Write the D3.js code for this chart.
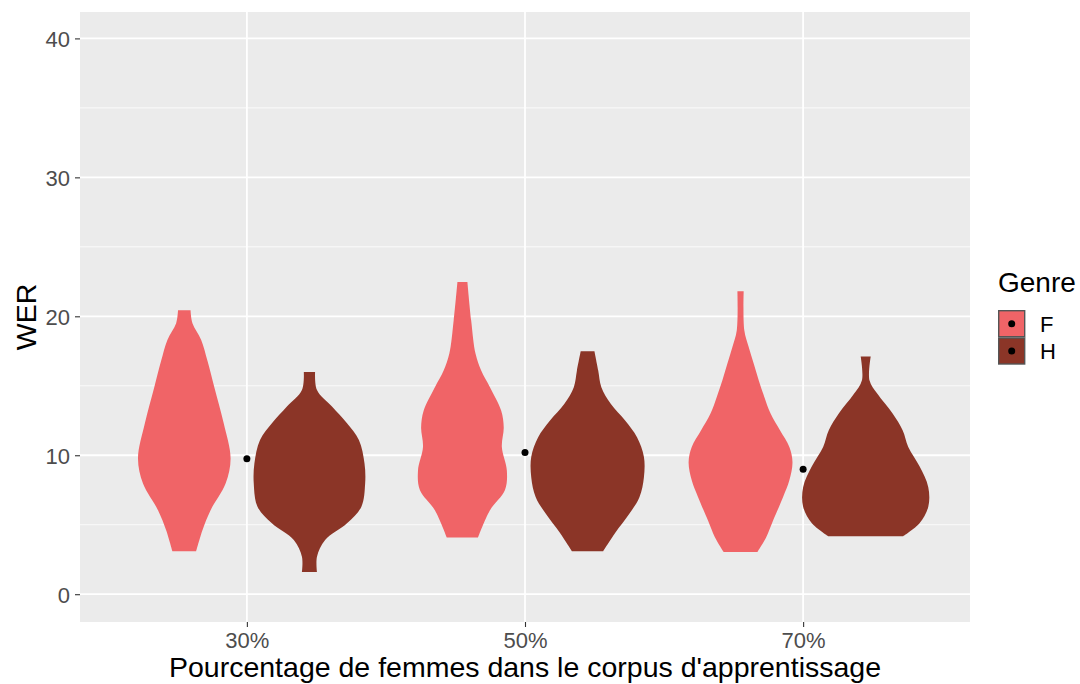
<!DOCTYPE html>
<html lang="fr">

<head>
    <meta charset="UTF-8">
    <script src="https://d3js.org/d3.v7.min.js" charset="utf-8"></script>
    <title>WER par genre</title>
    <style>
        body { margin: 0; background: #fff; }
        text { font-family: "Liberation Sans", Arial, sans-serif; }
    </style>
</head>

<body>
    <div id="chart"></div>

    <script>
        // pourcentages de femmes dans le corpus
        const categories = ["30%", "50%", "70%"];
        const genres = ["F", "H"];
        const colors = ["#F06467", "#8B3527"];
        const yTicks = [0, 10, 20, 30, 40];
        const yMinor = [5, 15, 25, 35];

        // profils des violons : [WER, densité relative]
        const violinF30 = [[3.09, 0.19], [4.6, 0.29], [6.04, 0.42], [7.96, 0.66], [9.76, 0.74], [12.3, 0.63], [14.9, 0.48], [16.8, 0.37], [18.3, 0.27], [19.5, 0.13], [20.43, 0.10]];
        const violinH30 = [[1.6, 0.12], [2.7, 0.12], [3.9, 0.25], [5.1, 0.60], [6.3, 0.83], [7.96, 0.89], [9.4, 0.88], [11.1, 0.79], [12.3, 0.60], [13.5, 0.36], [14.7, 0.12], [16.0, 0.09]];
        const violinF50 = [[4.08, 0.25], [6.04, 0.44], [7.5, 0.68], [8.9, 0.71], [10.6, 0.63], [12.0, 0.66], [13.2, 0.62], [14.9, 0.44], [16.1, 0.30], [17.3, 0.21], [19.7, 0.14], [22.47, 0.08]];
        const violinH50 = [[3.09, 0.25], [4.4, 0.44], [5.8, 0.67], [7.0, 0.83], [8.4, 0.90], [9.9, 0.90], [11.3, 0.79], [12.5, 0.60], [13.7, 0.37], [14.9, 0.22], [16.1, 0.17], [17.48, 0.11]];
        const violinF70 = [[3.04, 0.27], [4.1, 0.41], [5.3, 0.52], [7.0, 0.68], [8.2, 0.78], [9.5, 0.83], [10.6, 0.78], [11.8, 0.63], [13.0, 0.48], [14.2, 0.38], [15.4, 0.29], [16.6, 0.21], [17.8, 0.13], [19.0, 0.06], [21.8, 0.05]];
        const violinH70 = [[4.17, 0.60], [5.1, 0.86], [6.3, 1.0], [7.7, 1.0], [9.2, 0.86], [10.6, 0.68], [11.8, 0.59], [13.0, 0.43], [14.4, 0.19], [15.4, 0.06], [17.1, 0.08]];

        // points noirs (moyenne par condition)
        const meanWER = [9.75, 10.2, 9.0];

        const violins = [
            { cat: "30%", genre: "F", profile: violinF30 },
            { cat: "30%", genre: "H", profile: violinH30 },
            { cat: "50%", genre: "F", profile: violinF50 },
            { cat: "50%", genre: "H", profile: violinH50 },
            { cat: "70%", genre: "F", profile: violinF70 },
            { cat: "70%", genre: "H", profile: violinH70 }
        ];

        const width = 1080, height = 684;
        const panel = { left: 80, right: 970, top: 12, bottom: 622 };

        const svg = d3.select("#chart").append("svg")
            .attr("width", width)
            .attr("height", height);

        // ggplot : expansion de 0.6 unité de chaque côté
        const x = d3.scalePoint()
            .domain(categories)
            .range([panel.left, panel.right])
            .padding(0.6);
        const unit = x.step();

        const xDodge = d3.scaleBand().domain(genres).range([-0.45 * unit, 0.45 * unit]);
        const colour = d3.scaleOrdinal().domain(genres).range(colors);

        const y = d3.scaleLinear().domain([-2.0, 41.9]).range([panel.bottom, panel.top]);
        const w = d3.scaleLinear().domain([0, 1]).range([0, xDodge.bandwidth() / 2]);

        // fond du panneau
        svg.append("rect")
            .attr("x", panel.left).attr("y", panel.top)
            .attr("width", panel.right - panel.left)
            .attr("height", panel.bottom - panel.top)
            .attr("fill", "#EBEBEB");

        const grid = svg.append("g");
        grid.selectAll(".minor").data(yMinor).enter().append("line")
            .attr("x1", panel.left).attr("x2", panel.right)
            .attr("y1", d => y(d)).attr("y2", d => y(d))
            .attr("stroke", "#fff").attr("stroke-width", 0.8);
        grid.selectAll(".major").data(yTicks).enter().append("line")
            .attr("x1", panel.left).attr("x2", panel.right)
            .attr("y1", d => y(d)).attr("y2", d => y(d))
            .attr("stroke", "#fff").attr("stroke-width", 1.8);
        grid.selectAll(".vmajor").data(categories).enter().append("line")
            .attr("x1", d => x(d)).attr("x2", d => x(d))
            .attr("y1", panel.top).attr("y2", panel.bottom)
            .attr("stroke", "#fff").attr("stroke-width", 1.8);

        // violons
        const area = d3.area()
            .curve(d3.curveCatmullRom)
            .y(d => y(d[0]));

        svg.append("g").selectAll("path")
            .data(violins)
            .enter()
            .append("path")
            .attr("d", v => {
                const cx = x(v.cat) + xDodge(v.genre) + xDodge.bandwidth() / 2;
                return area.x0(d => cx - w(d[1])).x1(d => cx + w(d[1]))(v.profile);
            })
            .attr("fill", v => colour(v.genre));

        // points
        svg.append("g").selectAll("circle")
            .data(meanWER)
            .enter()
            .append("circle")
            .attr("cx", (d, i) => x(categories[i]))
            .attr("cy", d => y(d))
            .attr("r", 3.5)
            .attr("fill", "#000");

        // axes
        const yAxis = svg.append("g")
            .attr("transform", `translate(${panel.left},0)`)
            .call(d3.axisLeft(y).tickValues(yTicks).tickSize(5).tickPadding(5));
        yAxis.select(".domain").remove();
        yAxis.selectAll("line").attr("stroke", "#333").attr("stroke-width", 1.1);
        yAxis.selectAll("text").attr("fill", "#4D4D4D").style("font-size", "22px")
            .attr("dy", "0.36em");

        const xAxis = svg.append("g")
            .attr("transform", `translate(0,${panel.bottom})`)
            .call(d3.axisBottom(x).tickSize(5).tickPadding(4));
        xAxis.select(".domain").remove();
        xAxis.selectAll("line").attr("stroke", "#333").attr("stroke-width", 1.1);
        xAxis.selectAll("text").attr("fill", "#4D4D4D").style("font-size", "22px")
            .attr("y", 26).attr("dy", null);

        svg.append("text")
            .attr("x", (panel.left + panel.right) / 2).attr("y", 677)
            .attr("text-anchor", "middle")
            .style("font-size", "28.5px").attr("fill", "#000")
            .text("Pourcentage de femmes dans le corpus d'apprentissage");

        svg.append("text")
            .attr("transform", `translate(36,${(panel.top + panel.bottom) / 2}) rotate(-90)`)
            .attr("text-anchor", "middle")
            .style("font-size", "28.5px").attr("fill", "#000")
            .text("WER");

        // légende
        const legend = svg.append("g").attr("transform", "translate(998,0)");
        legend.append("text")
            .attr("x", 0).attr("y", 292)
            .style("font-size", "28px").attr("fill", "#000")
            .text("Genre");
        const keys = legend.selectAll(".key").data(genres).enter().append("g")
            .attr("transform", (d, i) => `translate(0,${310 + i * 27.3})`);
        keys.append("rect")
            .attr("x", 0.7).attr("y", 0.7)
            .attr("width", 26).attr("height", 26)
            .attr("fill", d => colour(d))
            .attr("stroke", "#555").attr("stroke-width", 1.4);
        keys.append("circle")
            .attr("cx", 13.7).attr("cy", 13.7).attr("r", 3.5).attr("fill", "#000");
        keys.append("text")
            .attr("x", 42).attr("y", 13.7).attr("dy", "0.36em")
            .style("font-size", "22px").attr("fill", "#000")
            .text(d => d);
    </script>
</body>

</html>
